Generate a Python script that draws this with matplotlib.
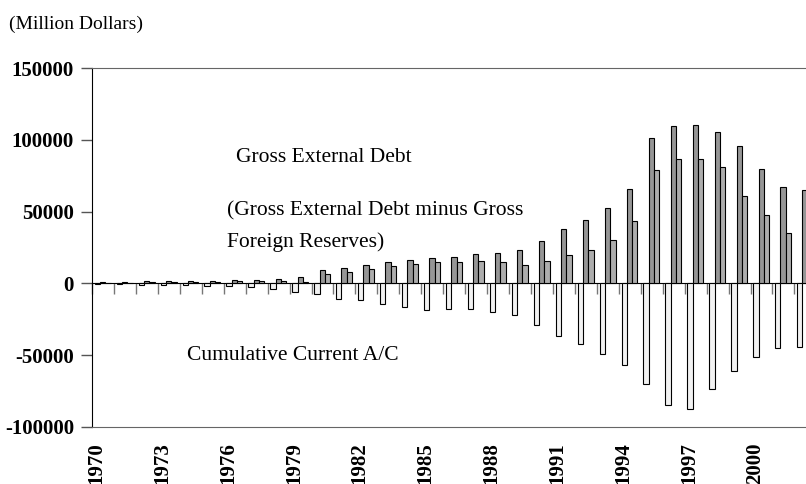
import numpy as np
import matplotlib.pyplot as plt

plt.rcParams['font.family'] = ['Liberation Serif', 'DejaVu Serif']

# Korea: external debt vs cumulative current account, million US$
years = list(range(1970, 2003))
cum_current_ac = [-200, -300, -900, -800, -900, -1500, -1600, -2700, -4100, -6300,
                  -7700, -10600, -11700, -14300, -16400, -18200, -17600, -18100,
                  -19700, -22300, -29300, -36500, -42500, -48900, -56900, -70100,
                  -84500, -87600, -73300, -60900, -51100, -45000, -44600]
gross_debt = [700, 800, 1600, 1600, 1700, 1600, 2100, 2100, 2800, 4200,
              9000, 11000, 12600, 14800, 16200, 17800, 18400, 20500, 21000,
              23200, 29700, 38000, 43900, 52400, 65500, 101300, 109300, 110000,
              105300, 95500, 79800, 67300, 64900]
net_debt = [500, 600, 1200, 1200, 1200, 1200, 1600, 1600, 1800, 700,
            6300, 8100, 9900, 12000, 13300, 14800, 14800, 15600, 14700,
            12700, 15500, 19600, 23100, 30100, 43300, 79100, 86400, 86400,
            81100, 60900, 47300, 34800, 30000]
yticks = [150000, 100000, 50000, 0, -50000, -100000]

W, H = 806, 484
fig = plt.figure(figsize=(W / 100, H / 100), dpi=100)
ax = fig.add_axes([92 / W, 57 / H, 724.35 / W, 359 / H])

x = np.arange(len(years))
bw = 0.242
ax.bar(x - 0.255, cum_current_ac, bw, color='#f2f2f2', edgecolor='black', linewidth=0.8, zorder=3)
ax.bar(x - 0.013, gross_debt, bw, color='#969696', edgecolor='black', linewidth=0.8, zorder=3)
ax.bar(x + 0.229, net_debt, bw, color='#adadad', edgecolor='black', linewidth=0.8, zorder=3)

ax.set_xlim(-0.5, len(years) - 0.5)
ax.set_ylim(-100000, 150000)

# value axis
ax.set_yticks(yticks)
ax.set_yticklabels([str(v) for v in yticks], fontsize=15, fontweight='bold')
ax.tick_params(axis='y', direction='out', length=8, width=1, pad=5, color='#555555')

# category axis sits on zero, ticks between categories
ax.spines['bottom'].set_position(('data', 0))
ax.spines['bottom'].set_color('black')
ax.spines['left'].set_color('black')
ax.spines['top'].set_color('#666666')
ax.spines['right'].set_visible(False)
ax.set_xticks(np.arange(-0.5, len(years), 1.0))
ax.set_xticklabels([])
ax.tick_params(axis='x', direction='out', length=8, width=1, color='#777777')

# year labels and the lower frame line
ax2 = ax.twiny()
ax2.set_position(ax.get_position())
ax2.set_xlim(ax.get_xlim())
ax2.xaxis.set_ticks_position('bottom')
ax2.xaxis.set_label_position('bottom')
lab_idx = x[::3]
ax2.set_xticks(lab_idx - 0.3)
ax2.set_xticklabels([str(years[i]) for i in lab_idx], rotation=90, va='top',
                    fontsize=15, fontweight='bold')
ax2.tick_params(axis='x', length=0, pad=11)
for s in ['top', 'left', 'right']:
    ax2.spines[s].set_visible(False)
ax2.spines['bottom'].set_color('#666666')


def ftext(px, py, s, size=15.5):
    fig.text(px / W, 1 - py / H, s, va='center', ha='left', fontsize=size)


ftext(9, 24, '(Million Dollars)', size=14)
ftext(236, 157, 'Gross External Debt')
ftext(227, 211, '(Gross External Debt minus Gross')
ftext(227, 242, 'Foreign Reserves)')
ftext(187, 355, 'Cumulative Current A/C')

fig.savefig('out.png', dpi=100)
